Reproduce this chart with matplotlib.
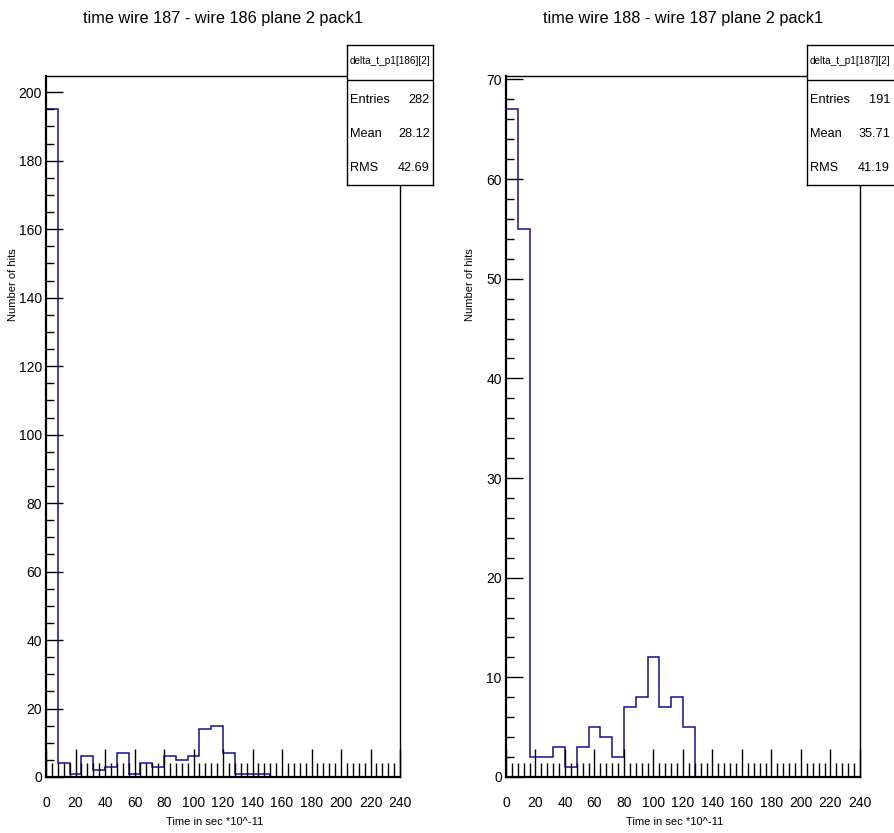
import numpy as np
import matplotlib
matplotlib.use("Agg")
import matplotlib.pyplot as plt
from matplotlib.ticker import MultipleLocator

plt.rcParams['font.family'] = ['Liberation Sans', 'DejaVu Sans']

# histogram data, 30 bins of width 8 over 0-240
bin_edges = np.arange(0, 241, 8)
counts_186 = [195, 4, 1, 6, 2, 3, 7, 1, 4, 3, 6, 5, 6, 14, 15, 7, 1, 1, 1,
              0, 0, 0, 0, 0, 0, 0, 0, 0, 0, 0]
counts_187 = [67, 55, 2, 2, 3, 1, 3, 5, 4, 2, 7, 8, 12, 7, 8, 5,
              0, 0, 0, 0, 0, 0, 0, 0, 0, 0, 0, 0, 0, 0]

titles = ["time wire 187 - wire 186 plane 2 pack1",
          "time wire 188 - wire 187 plane 2 pack1"]
names = ["delta_t_p1[186][2]", "delta_t_p1[187][2]"]
entries = [282, 191]
means = ["28.12", "35.71"]
rms = ["42.69", "41.19"]
xticks = np.arange(0, 241, 20)

W, H = 895, 833
fig = plt.figure(figsize=(W / 100, H / 100), dpi=100)


def px_axes(x0, y0, x1, y1, **kw):
    return fig.add_axes([x0 / W, 1 - y1 / H, (x1 - x0) / W, (y1 - y0) / H], **kw)


panels = [
    dict(x0=46, x1=400, counts=counts_186, major=20, minor=5,
         title_x=223, box_x=347, box_w=86, ylab_x=13, xlab_x=215),
    dict(x0=506, x1=860, counts=counts_187, major=10, minor=2,
         title_x=683, box_x=807, box_w=95, ylab_x=470, xlab_x=675),
]

for i, p in enumerate(panels):
    ax = px_axes(p['x0'], 76, p['x1'], 777)
    ax.stairs(p['counts'], bin_edges, color='#10109a', lw=1.1)
    ax.set_xlim(0, 240)
    ax.set_ylim(0, 1.05 * max(p['counts']))
    ax.set_xticks(xticks)
    ax.xaxis.set_minor_locator(MultipleLocator(4))
    ax.yaxis.set_major_locator(MultipleLocator(p['major']))
    ax.yaxis.set_minor_locator(MultipleLocator(p['minor']))
    ax.tick_params(axis='x', which='major', direction='in', length=20, width=1,
                   labelsize=10, pad=14, top=False)
    ax.tick_params(axis='x', which='minor', direction='in', length=10, width=1, top=False)
    ax.tick_params(axis='y', which='major', direction='in', length=12, width=1,
                   labelsize=10, pad=3, right=False)
    ax.tick_params(axis='y', which='minor', direction='in', length=6, width=1, right=False)
    for s in ax.spines.values():
        s.set_linewidth(1)
    ax.spines['left'].set_linewidth(1.6)
    ax.spines['bottom'].set_linewidth(1.6)

    fig.text(p['title_x'] / W, 1 - 18 / H, titles[i], ha='center', va='center', fontsize=11.7)
    fig.text(p['ylab_x'] / W, 1 - 285 / H, "Number of hits", rotation=90,
             ha='center', va='center', fontsize=8)
    fig.text(p['xlab_x'] / W, 1 - 822 / H, "Time in sec *10^-11",
             ha='center', va='center', fontsize=8)

    # stats box
    bw = p['box_w']
    bx = px_axes(p['box_x'], 45, p['box_x'] + bw, 185)
    bx.set_xlim(0, bw)
    bx.set_ylim(140, 0)
    bx.set_xticks([])
    bx.set_yticks([])
    bx.set_facecolor('white')
    for s in bx.spines.values():
        s.set_linewidth(1)
    bx.axhline(35.5, color='black', lw=1)
    bx.text(43, 16, names[i], ha='center', va='center', fontsize=7.2)
    rows = [("Entries", str(entries[i])), ("Mean", means[i]), ("RMS", rms[i])]
    for k, (lab, val) in enumerate(rows):
        yy = 55 + k * 34
        bx.text(3, yy, lab, ha='left', va='center', fontsize=9.2)
        bx.text(83, yy, val, ha='right', va='center', fontsize=9.2)

fig.savefig("out.png", dpi=100)
